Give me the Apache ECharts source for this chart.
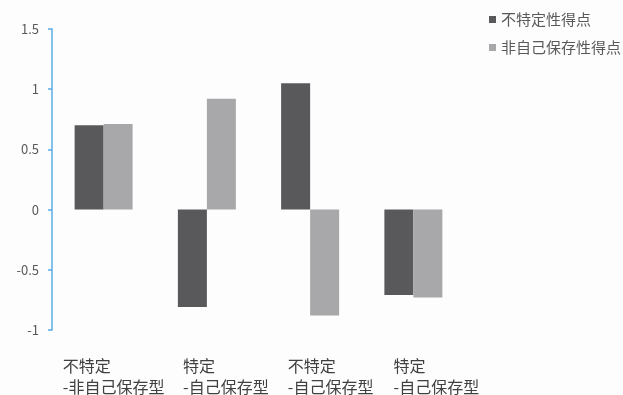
<!DOCTYPE html>
<html>
<head>
<meta charset="utf-8">
<script src="https://cdn.jsdelivr.net/npm/echarts@6/dist/echarts.min.js"></script>
<style>
html,body{margin:0;padding:0;background:#fdfdfd;}
#c{width:623px;height:395px;}
</style>
</head>
<body>
<div id="c"></div>
<script>
const categories = ['不特定\n-非自己保存型', '特定\n-自己保存型', '不特定\n-自己保存型', '特定\n-自己保存型'];
const seriesNames = ['不特定性得点', '非自己保存性得点'];
const seriesA = [0.70, -0.81, 1.05, -0.71];
const seriesB = [0.71, 0.92, -0.88, -0.73];
const yTicks = { min: -1, max: 1.5, interval: 0.5 };

const labelPad = [20, 38, 41, 46];
const rich = {};
labelPad.forEach((p, i) => {
  rich['p' + i] = { fontSize: 16, lineHeight: 21, color: '#404040', align: 'left', padding: [0, 0, 0, p], fontFamily: 'Noto Sans CJK SC' };
});

const chart = echarts.init(document.getElementById('c'));
chart.setOption({
  backgroundColor: '#fdfdfd',
  animation: false,
  textStyle: { fontFamily: 'Noto Sans CJK SC' },
  legend: {
    orient: 'vertical',
    left: 484,
    top: 7,
    itemWidth: 7,
    itemHeight: 7,
    itemGap: 13,
    icon: 'rect',
    textStyle: { fontSize: 15, color: '#595959', fontFamily: 'Noto Sans CJK SC' },
    data: seriesNames
  },
  grid: { left: 52, right: 158, top: 29, bottom: 65, containLabel: false },
  xAxis: {
    type: 'category',
    data: categories,
    position: 'bottom',
    axisLine: { show: false, onZero: false },
    axisTick: { show: false },
    axisLabel: {
      interval: 0,
      margin: 25,
      align: 'center',
      formatter: (v, i) => v.split('\n').map(s => '{p' + i + '|' + s + '}').join('\n'),
      rich: rich
    },
    splitLine: { show: false }
  },
  yAxis: {
    type: 'value',
    min: yTicks.min,
    max: yTicks.max,
    interval: yTicks.interval,
    axisLine: { show: true, lineStyle: { color: '#5aabe3', width: 1.5 } },
    axisTick: { show: true, length: 4, lineStyle: { color: '#5aabe3', width: 1.5 } },
    axisLabel: { fontSize: 13, color: '#595959', margin: 13 },
    splitLine: { show: false }
  },
  series: [
    { name: seriesNames[0], type: 'bar', data: seriesA, barWidth: 29, barGap: '0%', itemStyle: { color: '#59595b' } },
    { name: seriesNames[1], type: 'bar', data: seriesB, barWidth: 29, barGap: '0%', itemStyle: { color: '#a8a8aa' } }
  ]
});
</script>
</body>
</html>
